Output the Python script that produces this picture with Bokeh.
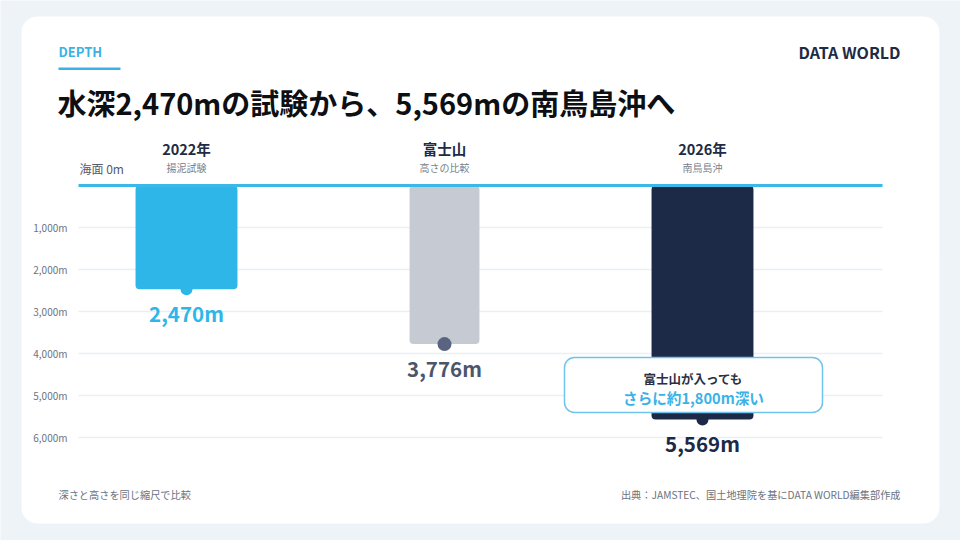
from bokeh.plotting import figure
from bokeh.models import Range1d, BoxAnnotation, Label, ColumnDataSource
from bokeh.core.properties import value
from bokeh.embed import file_html
from bokeh.resources import INLINE

# ---------------- data ----------------
categories = ["2022年", "富士山", "2026年"]
subtitles = ["揚泥試験", "高さの比較", "南鳥島沖"]
depths = [2470, 3776, 5569]
value_labels = ["2,470m", "3,776m", "5,569m"]
tick_values = [1000, 2000, 3000, 4000, 5000, 6000]
tick_labels = ["1,000m", "2,000m", "3,000m", "4,000m", "5,000m", "6,000m"]

# ---------------- styles ----------------
FONT = "Noto Sans CJK JP"
BG = "#eef3f7"
BLUE = "#2eb6e8"
NAVY = "#1c2a48"
bar_colors = [BLUE, "#c6cbd3", NAVY]
bar_widths = [0.395, 0.271, 0.395]
dot_colors = [BLUE, "#5a6480", NAVY]
dot_sizes = [12, 14, 12]
label_colors = ["#2eb6e8", "#4c566b", NAVY]

W, H = 960, 540
X_FIRST, X_STEP = 186, 258      # page px of first category centre, spacing
Y_SEA, PX_PER_M = 185, 0.042    # page px of sea level, px per metre


def px(X):  # page x -> category index units
    return (X - X_FIRST) / X_STEP


def dy(Y):  # page y -> depth (m)
    return (Y - Y_SEA) / PX_PER_M


def sx(X):
    return X


def sy(Y):
    return H - Y


p = figure(width=W, height=H, x_range=Range1d(px(0), px(W)),
           y_range=Range1d(dy(H), dy(0)),
           output_backend="svg", toolbar_location=None, min_border=0,
           x_axis_type=None, y_axis_type=None,
           background_fill_color=BG, border_fill_color=BG, outline_line_color=None)
p.grid.visible = False

# card
p.add_layout(BoxAnnotation(left=sx(21), right=sx(939), top=sy(16), bottom=sy(523),
                           left_units="screen", right_units="screen",
                           top_units="screen", bottom_units="screen",
                           fill_color="white", fill_alpha=1, line_color=None,
                           border_radius=16, level="underlay"))


def label(X, Y, text, size, color, bold=False, align="left"):
    p.add_layout(Label(x=sx(X), y=sy(Y), x_units="screen", y_units="screen", text=text,
                       text_font=FONT, text_font_size=f"{size}px",
                       text_font_style="bold" if bold else "normal",
                       text_color=color, text_align=align, text_baseline="middle"))


# header
label(58, 51, "DEPTH", 13, "#3bb2e6", bold=True)
p.add_layout(BoxAnnotation(left=sx(58), right=sx(120), top=sy(67), bottom=sy(69.5),
                           left_units="screen", right_units="screen",
                           top_units="screen", bottom_units="screen",
                           fill_color="#3bb2e6", fill_alpha=1, line_color=None))
label(900, 51, "DATA WORLD", 16, "#1f2a44", bold=True, align="right")
label(57, 101, "水深2,470mの試験から、5,569mの南鳥島沖へ", 29, "#0d0f12", bold=True)

# grid lines
grid_src = ColumnDataSource(dict(y=tick_values, lab=tick_labels))
p.segment(x0=px(78), x1=px(882), y0="y", y1="y", source=grid_src,
          line_color="#eceef3", line_width=1.5)
p.text(x=px(67), y="y", text="lab", source=grid_src, text_font=value(FONT),
       text_font_size="10px", text_color="#6b7383", text_align="right",
       text_baseline="middle")

# bars
xs = list(range(len(categories)))
bar_src = ColumnDataSource(dict(x=xs, d=depths, w=bar_widths, c=bar_colors,
                                dc=dot_colors, ds=dot_sizes, lab=value_labels,
                                lc=label_colors, cat=categories, sub=subtitles))
p.vbar(x="x", top=0, bottom="d", width="w", fill_color="c", line_color=None,
       border_radius=4, source=bar_src)
p.scatter(x="x", y="d", size="ds", fill_color="dc", line_color=None, source=bar_src)

# sea level line
p.segment(x0=[px(78)], x1=[px(882)], y0=[0], y1=[0], line_color="#3bb8ea", line_width=3)
label(79, 168, "海面 0m", 12, "#555c6b")

# value labels
p.text(x="x", y="d", text="lab", source=bar_src, y_offset=24, text_color="lc",
       text_font=value(FONT), text_font_size="20.5px", text_font_style="bold",
       text_align="center", text_baseline="middle")

# category headers
p.text(x="x", y=dy(148), text="cat", source=bar_src, text_color="#1f2a44",
       text_font=value(FONT), text_font_size="14.5px", text_font_style="bold",
       text_align="center", text_baseline="middle")
p.text(x="x", y=dy(167), text="sub", source=bar_src, text_color="#7a808c",
       text_font=value(FONT), text_font_size="10px",
       text_align="center", text_baseline="middle")

# callout
p.add_layout(BoxAnnotation(left=sx(564), right=sx(822), top=sy(357), bottom=sy(412),
                           left_units="screen", right_units="screen",
                           top_units="screen", bottom_units="screen",
                           fill_color="white", fill_alpha=1, line_color="#6fc3ec",
                           line_alpha=1, line_width=1.5, border_radius=10))
diff = round((depths[2] - depths[1]) / 100) * 100
label(693, 378, "富士山が入っても", 12.5, "#2a3142", bold=True, align="center")
label(693, 397, f"さらに約{diff:,}m深い", 14.6, "#3bb2e6", bold=True, align="center")

# footer
label(58, 494, "深さと高さを同じ縮尺で比較", 10.2, "#6b7280")
label(900, 494, "出典：JAMSTEC、国土地理院を基にDATA WORLD編集部作成", 10.2, "#6b7280", align="right")

open("out.html", "w").write(file_html(p, INLINE))
